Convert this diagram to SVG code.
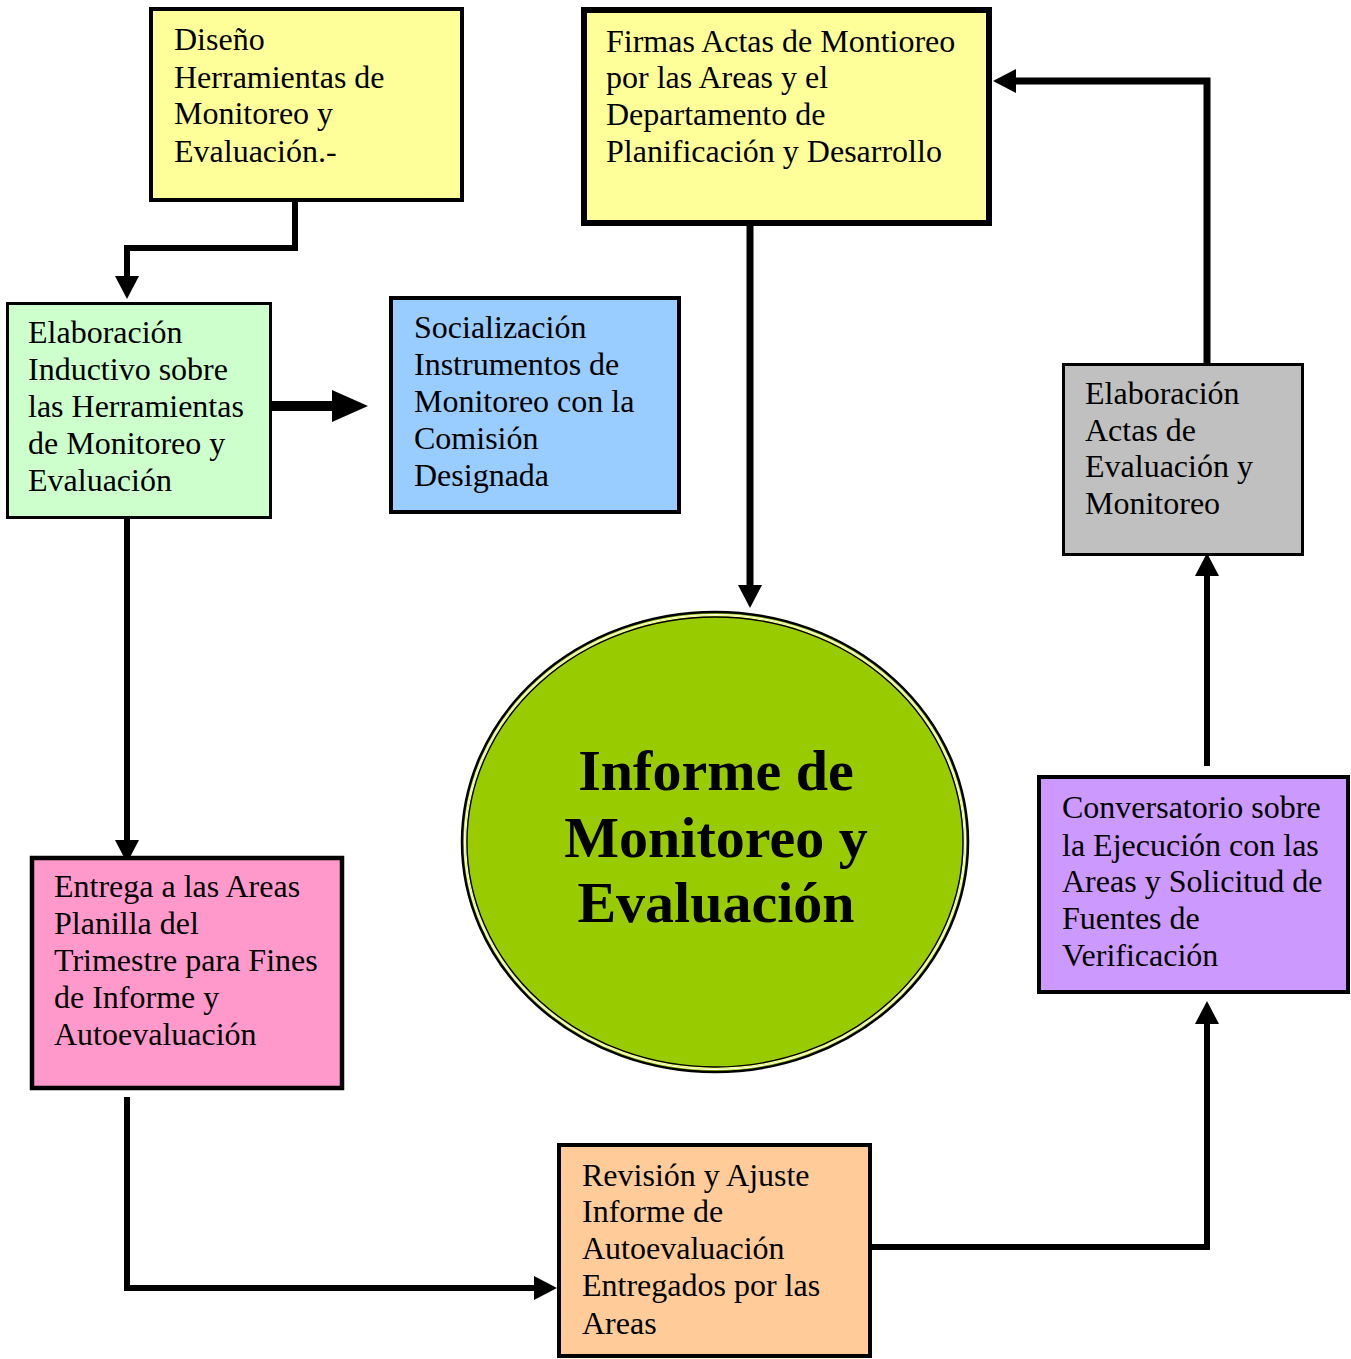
<svg xmlns="http://www.w3.org/2000/svg" width="1351" height="1359" viewBox="0 0 1351 1359">
<defs>
<style>
.t{font-family:"Liberation Serif","Times New Roman",serif;font-size:32px;fill:#000}
.title{font-family:"Liberation Serif","Times New Roman",serif;font-size:58px;font-weight:bold;fill:#000}
.box{stroke:#000}
.conn{fill:none;stroke:#000;stroke-linejoin:miter;stroke-linecap:butt}
</style>
<marker id="ah" markerUnits="userSpaceOnUse" markerWidth="24" markerHeight="24" refX="0" refY="12" orient="auto" viewBox="0 0 24 24">
<path d="M0,0 L23,12 L0,24 z" fill="#000"/>
</marker>
<marker id="ahBig" markerUnits="userSpaceOnUse" markerWidth="36" markerHeight="32" refX="0" refY="16" orient="auto" viewBox="0 0 36 32">
<path d="M0,0 L36,16 L0,32 z" fill="#000"/>
</marker>
</defs>
<rect width="1351" height="1359" fill="#fff"/>

<g id="connectors">
<path class="conn" stroke-width="6" d="M295,201 V248 H127 V276" marker-end="url(#ah)"/>
<path class="conn" stroke-width="10" d="M271,406 H332" marker-end="url(#ahBig)"/>
<path class="conn" stroke-width="6" d="M127,518 V840" marker-end="url(#ah)"/>
<path class="conn" stroke-width="6" d="M127,1097 V1288 H534" marker-end="url(#ah)"/>
<path class="conn" stroke-width="6" d="M872,1247 H1207 V1024" marker-end="url(#ah)"/>
<path class="conn" stroke-width="6" d="M1207,766 V576" marker-end="url(#ah)"/>
<path class="conn" stroke-width="7" d="M1207,363 V81 H1016" marker-end="url(#ah)"/>
<path class="conn" stroke-width="7" d="M750,226 V585" marker-end="url(#ah)"/>
</g>

<g id="node-diseno">
<rect class="box" x="151" y="9" width="311" height="191" fill="#ffff99" stroke-width="4"/>
<text class="t" x="174" y="50">Diseño</text>
<text class="t" x="174" y="88">Herramientas de</text>
<text class="t" x="174" y="124">Monitoreo y</text>
<text class="t" x="174" y="162">Evaluación.-</text>
</g>

<g id="node-firmas">
<rect class="box" x="584" y="10" width="405" height="213" fill="#ffff99" stroke-width="6"/>
<text class="t" x="606" y="52">Firmas Actas de Montioreo</text>
<text class="t" x="606" y="88">por las Areas y el</text>
<text class="t" x="606" y="125">Departamento de</text>
<text class="t" x="606" y="162">Planificación y Desarrollo</text>
</g>

<g id="node-elaboracion-inductivo">
<rect class="box" x="7.5" y="303.5" width="263" height="214" fill="#ccffcc" stroke-width="3"/>
<text class="t" x="28" y="343">Elaboración</text>
<text class="t" x="28" y="380">Inductivo sobre</text>
<text class="t" x="28" y="417">las Herramientas</text>
<text class="t" x="28" y="454">de Monitoreo y</text>
<text class="t" x="28" y="491">Evaluación</text>
</g>

<g id="node-socializacion">
<rect class="box" x="391" y="298" width="288" height="214" fill="#99ccff" stroke-width="4"/>
<text class="t" x="414" y="338">Socialización</text>
<text class="t" x="414" y="375">Instrumentos de</text>
<text class="t" x="414" y="412">Monitoreo con la</text>
<text class="t" x="414" y="449">Comisión</text>
<text class="t" x="414" y="486">Designada</text>
</g>

<g id="node-elaboracion-actas">
<rect class="box" x="1063.5" y="364.5" width="239" height="190" fill="#c0c0c0" stroke-width="3"/>
<text class="t" x="1085" y="404">Elaboración</text>
<text class="t" x="1085" y="441">Actas de</text>
<text class="t" x="1085" y="477">Evaluación y</text>
<text class="t" x="1085" y="514">Monitoreo</text>
</g>

<g id="node-informe">
<ellipse cx="715" cy="842" rx="253" ry="230" fill="#99cc00" stroke="#000" stroke-width="2.5"/>
<ellipse cx="715" cy="842" rx="250.5" ry="227.5" fill="none" stroke="#fff" stroke-width="1.2"/>
<ellipse cx="715" cy="842" rx="249.3" ry="226.3" fill="none" stroke="#ffff99" stroke-width="1.2"/>
<ellipse cx="715" cy="842" rx="248" ry="225" fill="none" stroke="#000" stroke-width="1.4"/>
<text class="title" x="716" y="790" text-anchor="middle">Informe de</text>
<text class="title" x="716" y="857" text-anchor="middle">Monitoreo y</text>
<text class="title" x="716" y="922" text-anchor="middle">Evaluación</text>
</g>

<g id="node-entrega">
<rect class="box" x="32" y="858" width="310" height="230" fill="#ff99cc" stroke-width="4.5"/>
<text class="t" x="54" y="897">Entrega a las Areas</text>
<text class="t" x="54" y="934">Planilla del</text>
<text class="t" x="54" y="971">Trimestre para Fines</text>
<text class="t" x="54" y="1008">de Informe y</text>
<text class="t" x="54" y="1045">Autoevaluación</text>
</g>

<g id="node-conversatorio">
<rect class="box" x="1039" y="777" width="309" height="215" fill="#cc99ff" stroke-width="4"/>
<text class="t" x="1062" y="818">Conversatorio sobre</text>
<text class="t" x="1062" y="856">la Ejecución con las</text>
<text class="t" x="1062" y="892">Areas y Solicitud de</text>
<text class="t" x="1062" y="929">Fuentes de</text>
<text class="t" x="1062" y="966">Verificación</text>
</g>

<g id="node-revision">
<rect class="box" x="559" y="1145" width="311" height="211" fill="#ffcc99" stroke-width="4"/>
<text class="t" x="582" y="1186">Revisión y Ajuste</text>
<text class="t" x="582" y="1222">Informe de</text>
<text class="t" x="582" y="1259">Autoevaluación</text>
<text class="t" x="582" y="1296">Entregados por las</text>
<text class="t" x="582" y="1334">Areas</text>
</g>
</svg>
